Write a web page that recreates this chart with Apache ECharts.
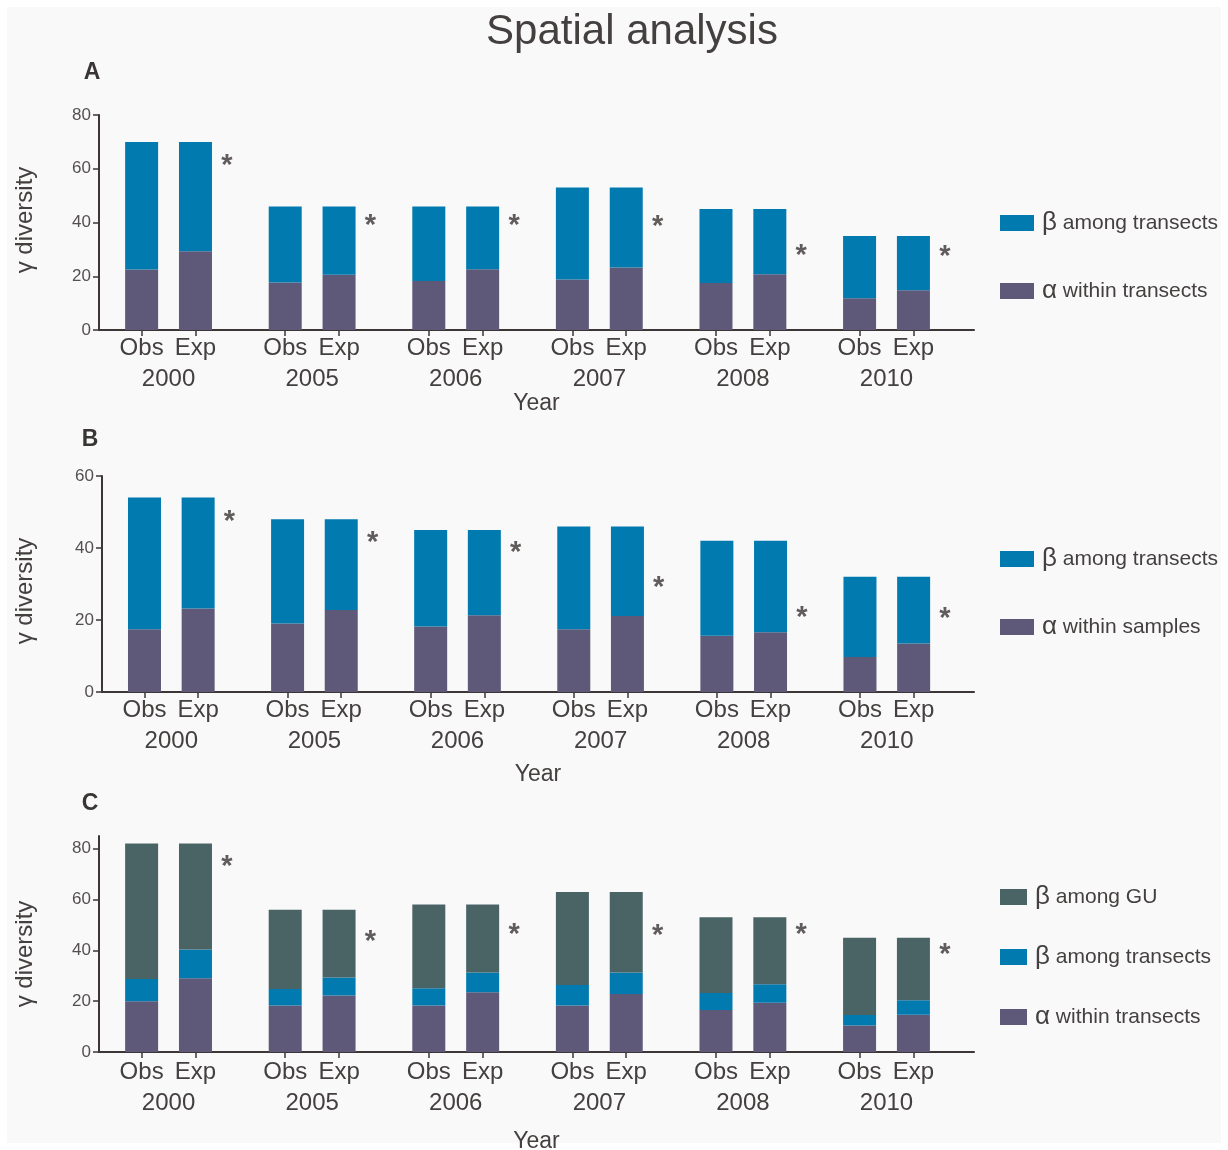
<!DOCTYPE html>
<html>
<head>
<meta charset="utf-8">
<script src="https://cdn.jsdelivr.net/npm/echarts@6/dist/echarts.min.js"></script>
<style>
  html, body { margin: 0; padding: 0; background: #ffffff; }
  #chart { width: 1228px; height: 1150px; }
</style>
</head>
<body>
<div id="chart"></div>
<script>
// ---- categories ----
const years = ['2000', '2005', '2006', '2007', '2008', '2010'];
const barLabels = ['Obs', 'Exp'];

// ---- Panel A: gamma partitioned into alpha (within transects) + beta (among transects) ----
const aAlphaObs = [22.5, 17.7, 18.2, 18.8, 17.5, 11.8];
const aBetaObs  = [47.5, 28.3, 27.8, 34.2, 27.5, 23.2];
const aAlphaExp = [29.3, 20.6, 22.6, 23.3, 20.7, 14.8];
const aBetaExp  = [40.7, 25.4, 23.4, 29.7, 24.3, 20.2];
const aStars    = [63, 40.6, 40.6, 40.3, 29.5, 29.1];

// ---- Panel B: alpha (within samples) + beta (among transects) ----
const bAlphaObs = [17.4, 19.0, 18.2, 17.4, 15.6, 9.7];
const bBetaObs  = [36.6, 29.0, 26.8, 28.6, 26.4, 22.3];
const bAlphaExp = [23.2, 22.8, 21.3, 21.1, 16.6, 13.5];
const bBetaExp  = [30.8, 25.2, 23.7, 24.9, 25.4, 18.5];
const bStars    = [48.5, 42.7, 40.0, 30.2, 22.0, 21.7];

// ---- Panel C: alpha (within transects) + beta (among transects) + beta (among GU) ----
const cAlphaObs = [20.0, 18.3, 18.3, 18.3, 16.5, 10.4];
const cTransObs = [8.7, 6.5, 6.8, 8.1, 6.7, 4.2];
const cGuObs    = [53.3, 31.2, 32.9, 36.6, 29.8, 30.4];
const cAlphaExp = [29.0, 22.2, 23.5, 22.8, 19.4, 14.7];
const cTransExp = [11.3, 7.1, 7.8, 8.5, 7.3, 5.7];
const cGuExp    = [41.7, 26.7, 26.7, 31.7, 26.3, 24.6];
const cStars    = [74.6, 45.3, 47.9, 47.6, 48.2, 40.3];

// ---- y ticks ----
const aTicks = [0, 20, 40, 60, 80];
const bTicks = [0, 20, 40, 60];
const cTicks = [0, 20, 40, 60, 80];

// ---- styling ----
const FONT = '"Liberation Sans", Arial, Helvetica, sans-serif';
const TEXT = '#444040';
const AXIS = '#3d3636';
const COL_ALPHA = '#5e5979';
const COL_TRANS = '#007aaf';
const COL_GU = '#4a6466';

// The x axis is a fine band axis: each year occupies a block of slots,
// with the Obs and Exp bars, the year caption and the asterisk on fixed slots.
const SLOTS_PER_YEAR = 32;
const OBS_SLOT = 9, EXP_SLOT = 21, YEAR_SLOT = 15, STAR_SLOT = 28;
const TOTAL_SLOTS = 195;
const slotNames = Array.from({ length: TOTAL_SLOTS }, (_, i) => 's' + i);

function slotRole(i) {
  const g = Math.floor(i / SLOTS_PER_YEAR), k = i % SLOTS_PER_YEAR;
  if (g >= years.length) return null;
  if (k === OBS_SLOT) return { g, role: 'obs' };
  if (k === EXP_SLOT) return { g, role: 'exp' };
  if (k === YEAR_SLOT) return { g, role: 'year' };
  if (k === STAR_SLOT) return { g, role: 'star' };
  return null;
}
const isBarSlot = (i) => { const r = slotRole(i); return !!r && (r.role === 'obs' || r.role === 'exp'); };
const isYearSlot = (i) => { const r = slotRole(i); return !!r && r.role === 'year'; };

function pairSeries(obs, exp) {
  return slotNames.map((_, i) => {
    const r = slotRole(i);
    if (r && r.role === 'obs') return obs[r.g];
    if (r && r.role === 'exp') return exp[r.g];
    return '-';
  });
}

function starSeries(vals) {
  return slotNames.map((_, i) => {
    const r = slotRole(i);
    return r && r.role === 'star' ? vals[r.g] : '-';
  });
}

// Main x axis: line, ticks under each bar, Obs/Exp labels and the "Year" title
function makeXAxis(gridIndex, labelMargin, nameGap) {
  return {
    type: 'category',
    gridIndex,
    position: 'bottom',
    data: slotNames,
    axisLine: { show: true, lineStyle: { color: AXIS, width: 2 } },
    axisTick: {
      show: true,
      alignWithLabel: true,
      length: 6,
      interval: isBarSlot,
      lineStyle: { color: AXIS, width: 1.5 }
    },
    axisLabel: {
      interval: isBarSlot,
      showMinLabel: true,
      showMaxLabel: true,
      formatter: (v, i) => barLabels[slotRole(i).role === 'obs' ? 0 : 1],
      fontFamily: FONT, fontSize: 24, lineHeight: 31, color: TEXT, margin: labelMargin
    },
    name: 'Year',
    nameLocation: 'middle',
    nameGap,
    nameTextStyle: { fontFamily: FONT, fontSize: 23, color: TEXT }
  };
}

// Second x axis on the same grid carrying only the year captions
function makeYearAxis(gridIndex, labelMargin) {
  return {
    type: 'category',
    gridIndex,
    position: 'bottom',
    offset: 0,
    data: slotNames,
    axisLine: { show: false },
    axisTick: { show: false },
    axisLabel: {
      interval: isYearSlot,
      showMinLabel: true,
      showMaxLabel: true,
      formatter: (v, i) => years[slotRole(i).g],
      fontFamily: FONT, fontSize: 24, lineHeight: 31, color: TEXT, margin: labelMargin
    }
  };
}

function makeYAxis(gridIndex, max, ticks) {
  return {
    type: 'value',
    gridIndex,
    min: 0,
    max,
    interval: 20,
    axisLine: { show: true, lineStyle: { color: AXIS, width: 2 } },
    axisTick: { show: true, length: 6, customValues: ticks, lineStyle: { color: AXIS, width: 1.5 } },
    axisLabel: { customValues: ticks, fontFamily: FONT, fontSize: 17, color: '#555050', margin: 8 },
    splitLine: { show: false }
  };
}

function bar(name, data, color, stack, idx) {
  return {
    type: 'bar', name, data, stack,
    xAxisIndex: idx, yAxisIndex: idx,
    barWidth: 33,
    itemStyle: { color },
    emphasis: { disabled: true }
  };
}

function stars(data, idx) {
  return {
    type: 'scatter', name: 'sig' + idx, data,
    xAxisIndex: idx, yAxisIndex: idx,
    symbolSize: 1,
    itemStyle: { color: 'rgba(0,0,0,0)' },
    silent: true,
    z: 5,
    label: {
      show: true, position: 'inside', formatter: '*',
      fontFamily: FONT, fontSize: 29, fontWeight: 'bold', color: '#3a3535',
      offset: [0, 5]
    }
  };
}

function legendText(name) {
  return '{g|' + name.charAt(0) + '}{t| ' + name.slice(2) + '}';
}

function makeLegend(names, top, itemWidth, itemGap) {
  return {
    data: names.map(n => ({ name: n, icon: 'rect' })),
    orient: 'vertical',
    left: 1000,
    top,
    padding: 0,
    itemWidth,
    itemHeight: 16,
    itemGap,
    selectedMode: false,
    formatter: legendText,
    textStyle: {
      fontFamily: FONT, color: TEXT,
      rich: {
        g: { fontFamily: FONT, fontSize: 26, lineHeight: 30, color: TEXT, padding: [0, 0, 0, 3] },
        t: { fontFamily: FONT, fontSize: 21, lineHeight: 30, color: TEXT }
      }
    }
  };
}

function txt(text, x, y, size, extra) {
  return {
    type: 'text', x, y, silent: true,
    rotation: (extra && extra.rotation) || 0,
    style: {
      text, fontFamily: FONT, fontSize: size,
      fontWeight: (extra && extra.bold) ? 'bold' : 'normal',
      fill: (extra && extra.fill) || TEXT,
      align: 'center', verticalAlign: 'middle'
    }
  };
}

const option = {
  backgroundColor: '#ffffff',
  animation: false,
  grid: [
    { left: 99, right: 254, top: 115, height: 215, outerBoundsMode: 'none' },
    { left: 102, right: 254, top: 476, height: 216, outerBoundsMode: 'none' },
    { left: 99, right: 254, top: 836, height: 216, outerBoundsMode: 'none' }
  ],
  xAxis: [
    makeXAxis(0, 3, 62),
    makeXAxis(1, 3, 71),
    makeXAxis(2, 5, 78),
    makeYearAxis(0, 34),
    makeYearAxis(1, 34),
    makeYearAxis(2, 36)
  ],
  yAxis: [
    makeYAxis(0, 80, aTicks),
    makeYAxis(1, 60, bTicks),
    makeYAxis(2, 85, cTicks)
  ],
  legend: [
    makeLegend(['β among transects', 'α within transects'], 210, 34, 42),
    makeLegend(['β among transects', 'α within samples'], 546, 34, 42),
    makeLegend(['β among GU', 'β among transects', 'α within transects'], 884, 27, 34)
  ],
  series: [
    bar('α within transects', pairSeries(aAlphaObs, aAlphaExp), COL_ALPHA, 'A', 0),
    bar('β among transects', pairSeries(aBetaObs, aBetaExp), COL_TRANS, 'A', 0),
    stars(starSeries(aStars), 0),

    bar('α within samples', pairSeries(bAlphaObs, bAlphaExp), COL_ALPHA, 'B', 1),
    bar('β among transects', pairSeries(bBetaObs, bBetaExp), COL_TRANS, 'B', 1),
    stars(starSeries(bStars), 1),

    bar('α within transects', pairSeries(cAlphaObs, cAlphaExp), COL_ALPHA, 'C', 2),
    bar('β among transects', pairSeries(cTransObs, cTransExp), COL_TRANS, 'C', 2),
    bar('β among GU', pairSeries(cGuObs, cGuExp), COL_GU, 'C', 2),
    stars(starSeries(cStars), 2)
  ],
  graphic: [
    { type: 'rect', z: -10, silent: true, shape: { x: 7, y: 7, width: 1214, height: 1136 }, style: { fill: '#faf9f9' } },
    txt('Spatial analysis', 632, 32, 42),
    txt('A', 92, 73, 23, { bold: true, fill: '#3a3535' }),
    txt('B', 90, 440, 23, { bold: true, fill: '#3a3535' }),
    txt('C', 90, 804, 23, { bold: true, fill: '#3a3535' }),
    txt('γ diversity', 25, 220, 24, { rotation: Math.PI / 2 }),
    txt('γ diversity', 25, 591, 24, { rotation: Math.PI / 2 }),
    txt('γ diversity', 25, 954, 24, { rotation: Math.PI / 2 })
  ]
};

const chart = echarts.init(document.getElementById('chart'), null, { renderer: 'canvas' });
chart.setOption(option);
</script>
</body>
</html>
